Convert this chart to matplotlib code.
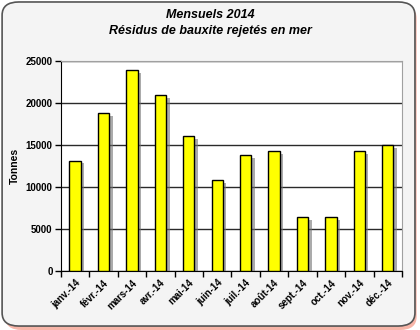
import matplotlib
matplotlib.use("Agg")
import matplotlib.pyplot as plt
import matplotlib.patheffects as pe
from matplotlib.patches import FancyBboxPatch
import numpy as np

months = ["janv.-14", "févr.-14", "mars-14", "avr.-14", "mai-14", "juin-14",
          "juil.-14", "août-14", "sept.-14", "oct.-14", "nov.-14", "déc.-14"]
tonnes = [13150, 18800, 23950, 20900, 16050, 10800,
          13750, 14250, 6400, 6400, 14250, 14950]
yticks = [0, 5000, 10000, 15000, 20000, 25000]

plt.rcParams["font.family"] = ["Liberation Sans", "DejaVu Sans"]

fig = plt.figure(figsize=(4.2, 3.3), dpi=100)
fig.patch.set_facecolor("white")

# rounded chart frame with a soft salmon shadow, kept behind the axes
shadow = FancyBboxPatch((0.012, 0.0), 0.98, 0.985,
                        boxstyle="round,pad=0,rounding_size=0.04",
                        transform=fig.transFigure, facecolor="#f7b5a8",
                        edgecolor="none", zorder=-2)
frame = FancyBboxPatch((0.005, 0.012), 0.983, 0.982,
                       boxstyle="round,pad=0,rounding_size=0.04",
                       transform=fig.transFigure, facecolor="#f4f4f4",
                       edgecolor="#555555", lw=1.2, zorder=-1)
fig.patches.extend([shadow, frame])

ax = fig.add_axes([0.145, 0.179, 0.812, 0.636])
ax.set_facecolor("white")

x = np.arange(len(months))
ax.bar(x, tonnes, width=0.4, color="#ffff00", edgecolor="black", lw=1.0,
       zorder=3,
       path_effects=[pe.SimplePatchShadow(offset=(2.5, -2), shadow_rgbFace="0.45",
                                          alpha=0.6), pe.Normal()])

ax.set_xlim(-0.5, len(months) - 0.5)
ax.set_ylim(0, 25000)
ax.set_yticks(yticks)
ax.set_yticklabels([str(v) for v in yticks], fontsize=7, fontweight="bold")
ax.yaxis.grid(True, color="#2a2a2a", lw=1.0, zorder=1)
ax.set_axisbelow(True)

ax.set_xticks(x)
ax.set_xticklabels(months, rotation=45, ha="right", rotation_mode="anchor",
                   fontsize=7, fontweight="bold")
ax.tick_params(axis="x", which="major", length=0, pad=5)
ax.set_xticks(np.arange(-0.5, len(months)), minor=True)
ax.tick_params(axis="x", which="minor", length=4, width=1, color="black")
ax.tick_params(axis="y", length=4, width=1, pad=2)

ax.spines["left"].set_color("black")
ax.spines["bottom"].set_color("black")
ax.spines["top"].set_color("#a0a0a0")
ax.spines["right"].set_color("#a0a0a0")

ax.set_ylabel("Tonnes", fontsize=7.5, fontweight="bold")
ax.yaxis.set_label_coords(-0.12, 0.5)

fig.text(0.5, 0.955, "Mensuels 2014", ha="center", va="center",
         fontsize=9, fontweight="bold", style="italic")
fig.text(0.5, 0.905, "Résidus de bauxite rejetés en mer", ha="center",
         va="center", fontsize=9, fontweight="bold", style="italic")

fig.savefig("out.png", dpi=100)
